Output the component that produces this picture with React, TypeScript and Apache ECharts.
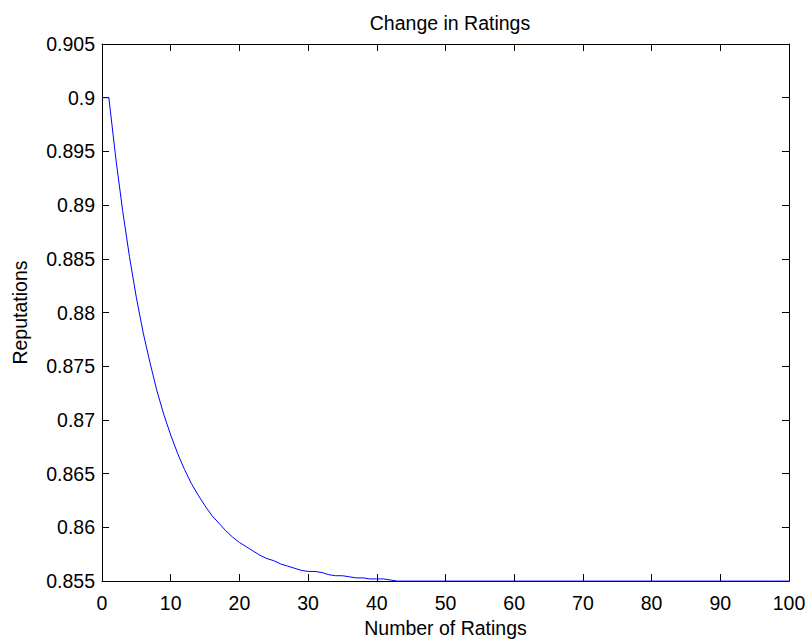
import React, { useEffect, useRef } from "react";
import * as echarts from "echarts";

const titleText = "Change in Ratings";
const xName = "Number of Ratings";
const yName = "Reputations";

// Number of ratings (x) and the reputation values
const ratings: number[] = Array.from({ length: 101 }, (_, i) => i);
const reputationsHead: number[] = [
  0.9, 0.9, 0.8944, 0.8895, 0.8852, 0.8814, 0.8781, 0.8753, 0.8727, 0.8705,
  0.8686, 0.8669, 0.8654, 0.8641, 0.863, 0.862, 0.8611, 0.8604, 0.8597, 0.8591,
  0.8586, 0.8582, 0.8578, 0.8574, 0.8571, 0.8569, 0.8566, 0.8564, 0.8562, 0.856,
  0.8559, 0.8559, 0.8558, 0.8556, 0.8555, 0.8555, 0.8554, 0.8553, 0.8553, 0.8552,
  0.8552, 0.8552, 0.8551,
];
const reputationsTail: number[] = new Array(101 - reputationsHead.length).fill(0.855);
const reputations: number[] = [...reputationsHead, ...reputationsTail];

const yTicks = { min: 0.855, max: 0.905, interval: 0.005 };
const xTicks = { min: 0, max: 100, interval: 10 };

const FONT = "'Liberation Sans', Arial, sans-serif";
const FS = 19.5;

export default function App() {
  const ref = useRef<HTMLDivElement>(null);
  useEffect(() => {
    if (!ref.current) return;
    const chart = echarts.init(ref.current, undefined, { renderer: "svg" });
    const axisCommon = {
      axisLine: { show: true, onZero: false, lineStyle: { color: "#000", width: 1 } },
      axisTick: { show: true, inside: true, length: 7, lineStyle: { color: "#000", width: 1 } },
      splitLine: { show: false },
    };
    const fmtY = (v: number) => String(parseFloat(v.toFixed(3)));
    chart.setOption({
      animation: false,
      backgroundColor: "#fff",
      title: {
        text: titleText,
        left: 445,
        top: 8,
        textAlign: "center",
        textStyle: { fontFamily: FONT, fontSize: FS, fontWeight: "normal", color: "#000" },
      },
      grid: { left: 102, right: 21, top: 44, bottom: 57, containLabel: false },
      xAxis: [
        {
          type: "value",
          position: "bottom",
          min: xTicks.min,
          max: xTicks.max,
          interval: xTicks.interval,
          name: xName,
          nameLocation: "middle",
          nameGap: 34,
          nameTextStyle: { fontFamily: FONT, fontSize: FS, color: "#000", verticalAlign: "top" },
          axisLabel: { fontFamily: FONT, fontSize: FS, color: "#000", margin: 12 },
          ...axisCommon,
        },
        {
          type: "value",
          position: "top",
          min: xTicks.min,
          max: xTicks.max,
          interval: xTicks.interval,
          axisLabel: { show: false },
          ...axisCommon,
        },
      ],
      yAxis: [
        {
          type: "value",
          position: "left",
          min: yTicks.min,
          max: yTicks.max,
          interval: yTicks.interval,
          name: yName,
          nameLocation: "middle",
          nameGap: 72,
          nameTextStyle: { fontFamily: FONT, fontSize: FS, color: "#000" },
          axisLabel: { fontFamily: FONT, fontSize: FS, color: "#000", margin: 7, formatter: fmtY },
          ...axisCommon,
        },
        {
          type: "value",
          position: "right",
          min: yTicks.min,
          max: yTicks.max,
          interval: yTicks.interval,
          axisLabel: { show: false },
          ...axisCommon,
        },
      ],
      series: [
        {
          type: "line",
          data: ratings.map((x, i) => [x, reputations[i]]),
          showSymbol: false,
          symbol: "none",
          clip: false,
          z: 5,
          lineStyle: { color: "#0000ff", width: 1 },
        },
      ],
    });
    return () => chart.dispose();
  }, []);
  return (
    <div
      ref={ref}
      style={{ position: "fixed", left: 0, top: 0, width: 810, height: 643, background: "#fff" }}
    />
  );
}
